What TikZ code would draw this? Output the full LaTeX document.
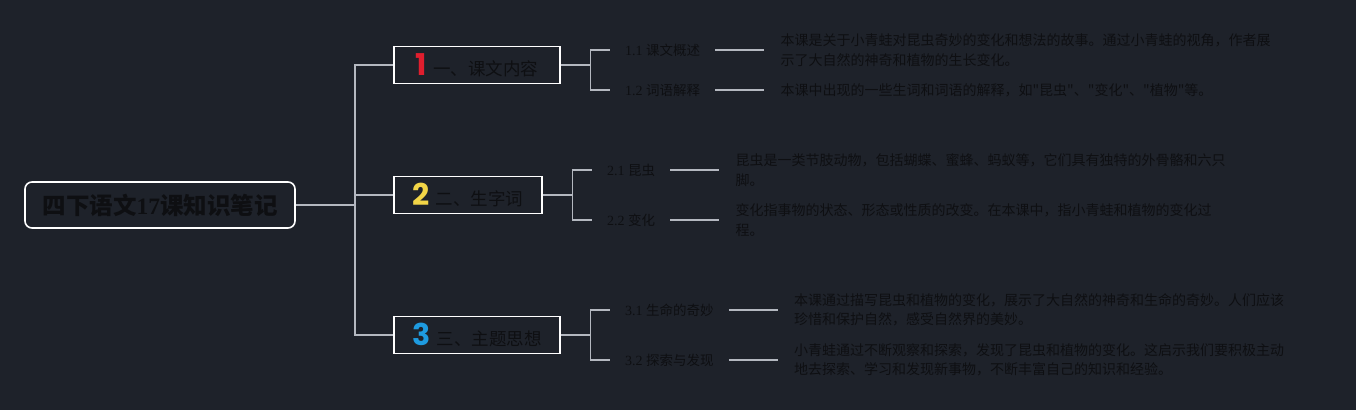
\documentclass[tikz,border=0pt]{standalone}
\usepackage{fontspec}
\usepackage{tikz}
\usetikzlibrary{positioning,calc}

\setmainfont{Liberation Serif}
\newfontfamily\cjk{Noto Sans CJK SC}
\newfontfamily\numfont{Poppins}

\definecolor{bgdark}{HTML}{1E222A}
\definecolor{inkdark}{HTML}{0E0F12}
\definecolor{linegray}{HTML}{B4B8C0}
\definecolor{numred}{HTML}{E01E2E}
\definecolor{numyellow}{HTML}{F2D547}
\definecolor{numblue}{HTML}{1E9BE0}

\newcommand{\badge}[2]{\textcolor{#1}{\numfont\bfseries\fontsize{30}{30}\selectfont #2}\hspace{6pt}}

\begin{document}
\begin{tikzpicture}[x=1pt, y=-1pt,
    rootbox/.style={draw=white, line width=1.6pt, rounded corners=7pt, fill=bgdark, minimum width=270pt, minimum height=46pt, text=inkdark, font=\cjk\bfseries\fontsize{23.5}{28}\selectfont},
    topicbox/.style={draw=white, line width=1.6pt, fill=bgdark, minimum height=37pt, inner xsep=4pt, text=inkdark, font=\cjk\fontsize{17.5}{21}\selectfont},
    subitem/.style={anchor=west, text=inkdark, inner xsep=15pt, inner ysep=0pt, font=\fontsize{14}{16}\selectfont},
    leaftext/.style={align=left, text=inkdark, inner xsep=16pt, inner ysep=0pt, font=\cjk\fontsize{14}{19.5}\selectfont},
    link/.style={draw=linegray, line width=1.2pt}]
    \useasboundingbox (0,0) rectangle (1356,410);
    \fill[bgdark] (0,0) rectangle (1356,410);

    % root and main branches
    \node [rootbox] (root) at (160,205) {四下语文{\rmfamily\bfseries 17}课知识笔记};
    \node [topicbox, minimum width=166pt] (topic1) at (477,65) {\badge{numred}{1}一、课文内容};
    \node [topicbox, minimum width=148pt] (topic2) at (468,195) {\badge{numyellow}{2}二、生字词};
    \node [topicbox, minimum width=166pt] (topic3) at (477,335) {\badge{numblue}{3}三、主题思想};

    \coordinate (trunk) at (355,205);
    \draw [link] (root.east) -- (trunk);
    \draw [link] (trunk) |- (topic1.west);
    \draw [link] (trunk) |- (topic2.west);
    \draw [link] (trunk) |- (topic3.west);

    % branch 1
    \coordinate (fork1) at ($(topic1.east)+(30pt,0)$);
    \node [subitem] (sub11) at (610,50) {1.1 {\cjk\fontsize{13.5}{16}\selectfont 课文概述}};
    \node [subitem] (sub12) at (610,90) {1.2 {\cjk\fontsize{13.5}{16}\selectfont 词语解释}};
    \node [leaftext, right=49pt of sub11] (leaf11) {本课是关于小青蛙对昆虫奇妙的变化和想法的故事。通过小青蛙的视角，作者展\\示了大自然的神奇和植物的生长变化。};
    \node [leaftext, right=49pt of sub12] (leaf12) {本课中出现的一些生词和词语的解释，如"昆虫"、"变化"、"植物"等。};
    \draw [link] (topic1.east) -- (fork1);
    \draw [link] (fork1) |- (sub11.west);
    \draw [link] (fork1) |- (sub12.west);
    \draw [link] (sub11.east) -- (leaf11.west);
    \draw [link] (sub12.east) -- (leaf12.west);

    % branch 2
    \coordinate (fork2) at ($(topic2.east)+(30pt,0)$);
    \node [subitem] (sub21) at (592,170) {2.1 {\cjk\fontsize{13.5}{16}\selectfont 昆虫}};
    \node [subitem] (sub22) at (592,220) {2.2 {\cjk\fontsize{13.5}{16}\selectfont 变化}};
    \node [leaftext, right=49pt of sub21] (leaf21) {昆虫是一类节肢动物，包括蝴蝶、蜜蜂、蚂蚁等，它们具有独特的外骨骼和六只\\脚。};
    \node [leaftext, right=49pt of sub22] (leaf22) {变化指事物的状态、形态或性质的改变。在本课中，指小青蛙和植物的变化过\\程。};
    \draw [link] (topic2.east) -- (fork2);
    \draw [link] (fork2) |- (sub21.west);
    \draw [link] (fork2) |- (sub22.west);
    \draw [link] (sub21.east) -- (leaf21.west);
    \draw [link] (sub22.east) -- (leaf22.west);

    % branch 3
    \coordinate (fork3) at ($(topic3.east)+(30pt,0)$);
    \node [subitem] (sub31) at (610,310) {3.1 {\cjk\fontsize{13.5}{16}\selectfont 生命的奇妙}};
    \node [subitem] (sub32) at (610,360) {3.2 {\cjk\fontsize{13.5}{16}\selectfont 探索与发现}};
    \node [leaftext, right=49pt of sub31] (leaf31) {本课通过描写昆虫和植物的变化，展示了大自然的神奇和生命的奇妙。人们应该\\珍惜和保护自然，感受自然界的美妙。};
    \node [leaftext, right=49pt of sub32] (leaf32) {小青蛙通过不断观察和探索，发现了昆虫和植物的变化。这启示我们要积极主动\\地去探索、学习和发现新事物，不断丰富自己的知识和经验。};
    \draw [link] (topic3.east) -- (fork3);
    \draw [link] (fork3) |- (sub31.west);
    \draw [link] (fork3) |- (sub32.west);
    \draw [link] (sub31.east) -- (leaf31.west);
    \draw [link] (sub32.east) -- (leaf32.west);
\end{tikzpicture}
\end{document}
